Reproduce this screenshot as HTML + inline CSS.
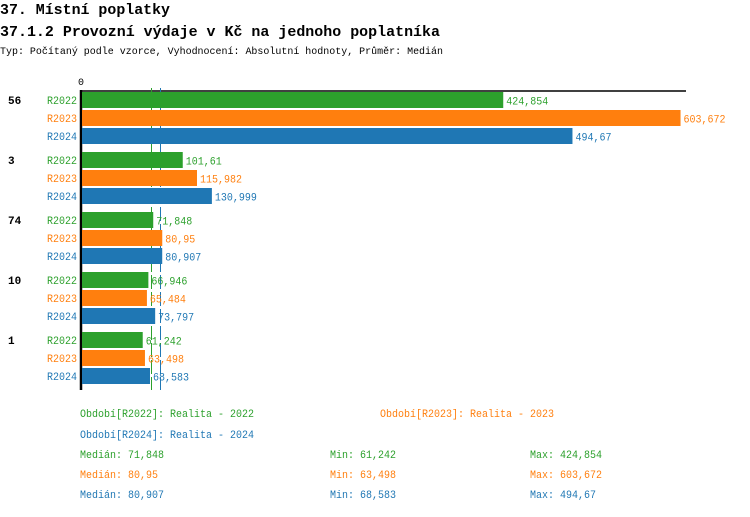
<!DOCTYPE html>
<html><head><meta charset="utf-8"><style>
body{margin:0;background:#fff}
svg text{font-family:"Liberation Mono",monospace}
</style></head><body>
<svg width="750" height="512" xmlns="http://www.w3.org/2000/svg">
<text x="0" y="14" font-size="15" font-weight="bold" textLength="170" lengthAdjust="spacingAndGlyphs">37. Místní poplatky</text>
<text x="0" y="36" font-size="15" font-weight="bold" textLength="440" lengthAdjust="spacingAndGlyphs">37.1.2 Provozní výdaje v Kč na jednoho poplatníka</text>
<text x="0" y="54" font-size="10.5" textLength="443" lengthAdjust="spacingAndGlyphs">Typ: Počítaný podle vzorce, Vyhodnocení: Absolutní hodnoty, Průměr: Medián</text>
<text x="78" y="85" font-size="10">0</text>
<line x1="80" y1="91" x2="686" y2="91" stroke="#000" stroke-width="1.5"/>
<line x1="81" y1="90" x2="81" y2="390" stroke="#000" stroke-width="2.5"/>
<line x1="151.5" y1="88" x2="151.5" y2="390" stroke="#2ca02c" stroke-width="1" stroke-dasharray="14,3"/>
<line x1="160.5" y1="88" x2="160.5" y2="390" stroke="#1f77b4" stroke-width="1" stroke-dasharray="14,3"/>
<g id="bars"></g>
<g font-size="11">
<text x="80" y="417" fill="#2ca02c" textLength="174" lengthAdjust="spacingAndGlyphs">Období[R2022]: Realita - 2022</text>
<text x="380" y="417" fill="#ff7f0e" textLength="174" lengthAdjust="spacingAndGlyphs">Období[R2023]: Realita - 2023</text>
<text x="80" y="438" fill="#1f77b4" textLength="174" lengthAdjust="spacingAndGlyphs">Období[R2024]: Realita - 2024</text>
<text x="80" y="458" fill="#2ca02c" textLength="84" lengthAdjust="spacingAndGlyphs">Medián: 71,848</text>
<text x="80" y="478" fill="#ff7f0e" textLength="78" lengthAdjust="spacingAndGlyphs">Medián: 80,95</text>
<text x="80" y="498" fill="#1f77b4" textLength="84" lengthAdjust="spacingAndGlyphs">Medián: 80,907</text>
<text x="330" y="458" fill="#2ca02c" textLength="66" lengthAdjust="spacingAndGlyphs">Min: 61,242</text>
<text x="330" y="478" fill="#ff7f0e" textLength="66" lengthAdjust="spacingAndGlyphs">Min: 63,498</text>
<text x="330" y="498" fill="#1f77b4" textLength="66" lengthAdjust="spacingAndGlyphs">Min: 68,583</text>
<text x="530" y="458" fill="#2ca02c" textLength="72" lengthAdjust="spacingAndGlyphs">Max: 424,854</text>
<text x="530" y="478" fill="#ff7f0e" textLength="72" lengthAdjust="spacingAndGlyphs">Max: 603,672</text>
<text x="530" y="498" fill="#1f77b4" textLength="66" lengthAdjust="spacingAndGlyphs">Max: 494,67</text>
</g>
</svg>
<script>
const data=[["56",[424.854,603.672,494.67],["424,854","603,672","494,67"]],["3",[101.61,115.982,130.999],["101,61","115,982","130,999"]],["74",[71.848,80.95,80.907],["71,848","80,95","80,907"]],["10",[66.946,65.484,73.797],["66,946","65,484","73,797"]],["1",[61.242,63.498,68.583],["61,242","63,498","68,583"]]];
const cols=["#2ca02c","#ff7f0e","#1f77b4"],names=["R2022","R2023","R2024"];
let s="";
data.forEach((g,i)=>{const y0=92+i*60;
s+=`<text x="8" y="${y0+12}" font-size="11" font-weight="bold">${g[0]}</text>`;
for(let j=0;j<3;j++){const y=y0+j*18,w=g[1][j]*0.9915;
s+=`<text x="77" y="${y+12}" font-size="11" fill="${cols[j]}" text-anchor="end" textLength="30" lengthAdjust="spacingAndGlyphs">${names[j]}</text>`;
s+=`<rect x="82" y="${y}" width="${w}" height="16" fill="${cols[j]}"/>`;
s+=`<text x="${82+w+3}" y="${y+12.5}" font-size="11" fill="${cols[j]}" textLength="${g[2][j].length*6}" lengthAdjust="spacingAndGlyphs">${g[2][j]}</text>`;}
});
document.getElementById("bars").innerHTML=s;
</script>
</body></html>
